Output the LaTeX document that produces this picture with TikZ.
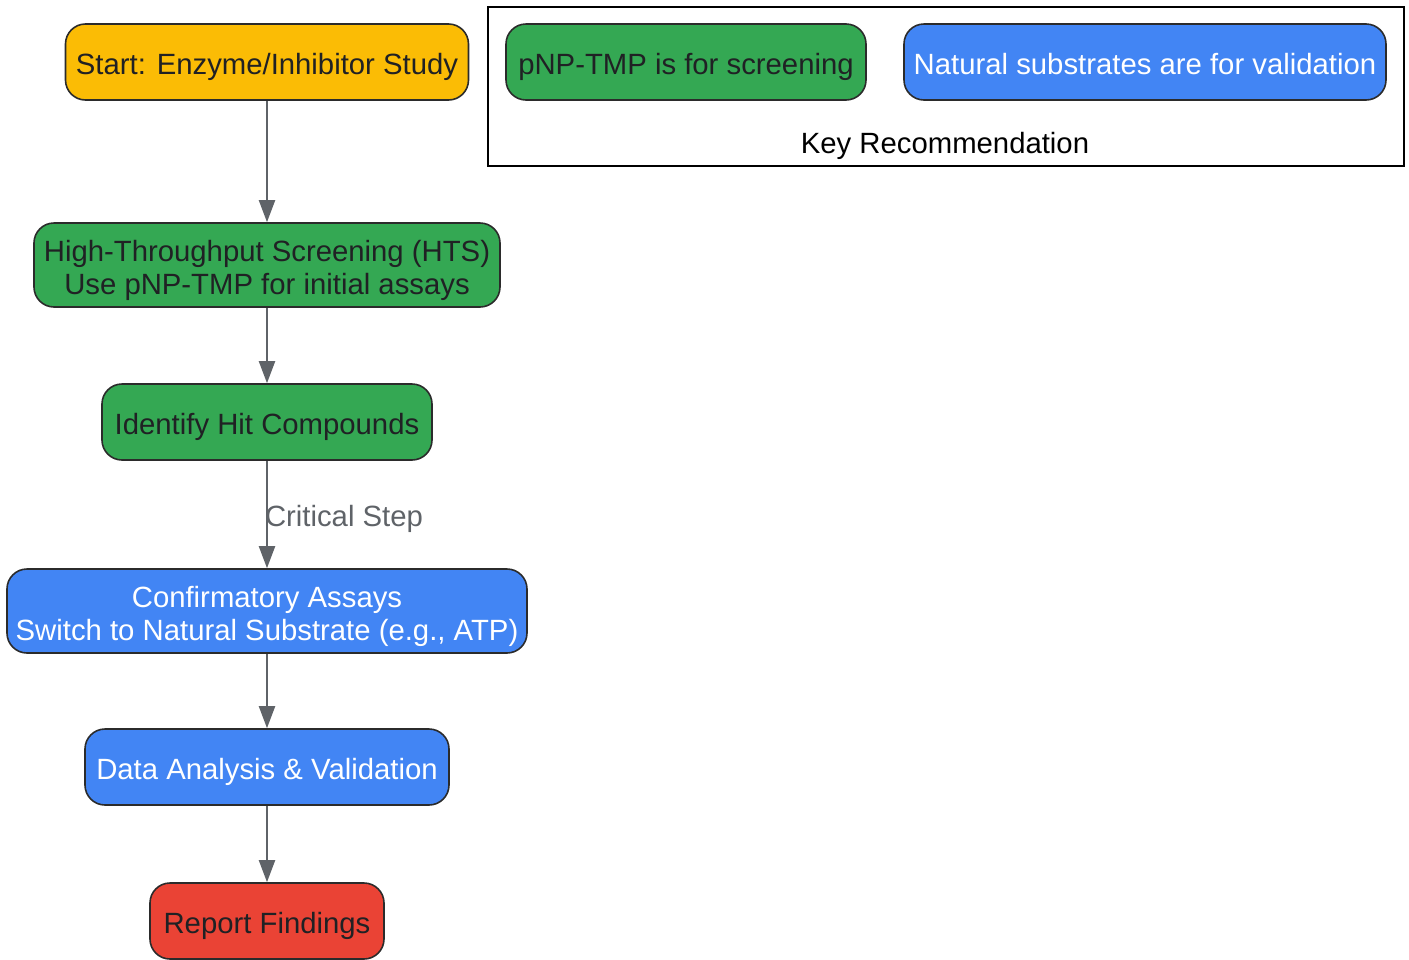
\documentclass[tikz,border=0pt]{standalone}
\usepackage{fontspec}
\setmainfont{Liberation Sans}
\usetikzlibrary{arrows.meta}
\definecolor{cyellow}{HTML}{FBBC05}
\definecolor{cgreen}{HTML}{34A853}
\definecolor{cblue}{HTML}{4285F4}
\definecolor{cred}{HTML}{EA4335}
\definecolor{cedge}{HTML}{5F6368}
\definecolor{cborder}{HTML}{2B2B2B}
\definecolor{ctext}{HTML}{202124}
\tikzset{
  x=1pt, y=-1pt,
  txt/.style={font=\fontsize{29.3}{33}\selectfont, text height=27pt, text depth=1.5pt, inner sep=0pt},
  box/.style={txt, draw=cborder, line width=1.6pt, rounded corners=20pt, align=center, text=ctext},
  twoline/.style={text height=60pt},
  conn/.style={draw=cedge, line width=2pt, -{Triangle[length=22pt,width=16pt]}},
}
\begin{document}
\begin{tikzpicture}
\useasboundingbox (0,0) rectangle (1409,959);
% key box
\node[draw=black, line width=1.6pt, minimum width=916pt, minimum height=159pt, inner sep=0pt] (key) at (946,86.5) {};
\node[box, fill=cgreen, minimum width=360pt, minimum height=76pt] (pnp) at (686,62) {pNP-TMP is for screening};
\node[box, fill=cblue, text=white, minimum width=482pt, minimum height=76pt] (nat) at (1145,62) {Natural substrates are for validation};
\node[txt, text=black] (keylbl) at (945,141) {Key Recommendation};
% flow
\node[box, fill=cyellow, minimum width=403pt, minimum height=76pt] (start) at (267,62) {Start: Enzyme/Inhibitor Study};
\node[box, twoline, fill=cgreen, minimum width=466pt, minimum height=84pt] (hts) at (267,265) {High-Throughput Screening (HTS)\\Use pNP-TMP for initial assays};
\node[box, fill=cgreen, minimum width=330pt, minimum height=76pt] (hit) at (267,422) {Identify Hit Compounds};
\node[box, twoline, fill=cblue, text=white, minimum width=520pt, minimum height=84pt] (conf) at (267,611) {Confirmatory Assays\\Switch to Natural Substrate (e.g., ATP)};
\node[box, fill=cblue, text=white, minimum width=364pt, minimum height=76pt] (data) at (267,767) {Data Analysis \& Validation};
\node[box, fill=cred, minimum width=234pt, minimum height=76pt] (rep) at (267,921) {Report Findings};
\draw[conn] (start) -- (hts);
\draw[conn] (hts) -- (hit);
\draw[conn] (hit) -- node[pos=0.52, anchor=west, xshift=-3pt, yshift=3pt, txt, text=cedge] (crit) {Critical Step} (conf);
\draw[conn] (conf) -- (data);
\draw[conn] (data) -- (rep);
\end{tikzpicture}
\end{document}
